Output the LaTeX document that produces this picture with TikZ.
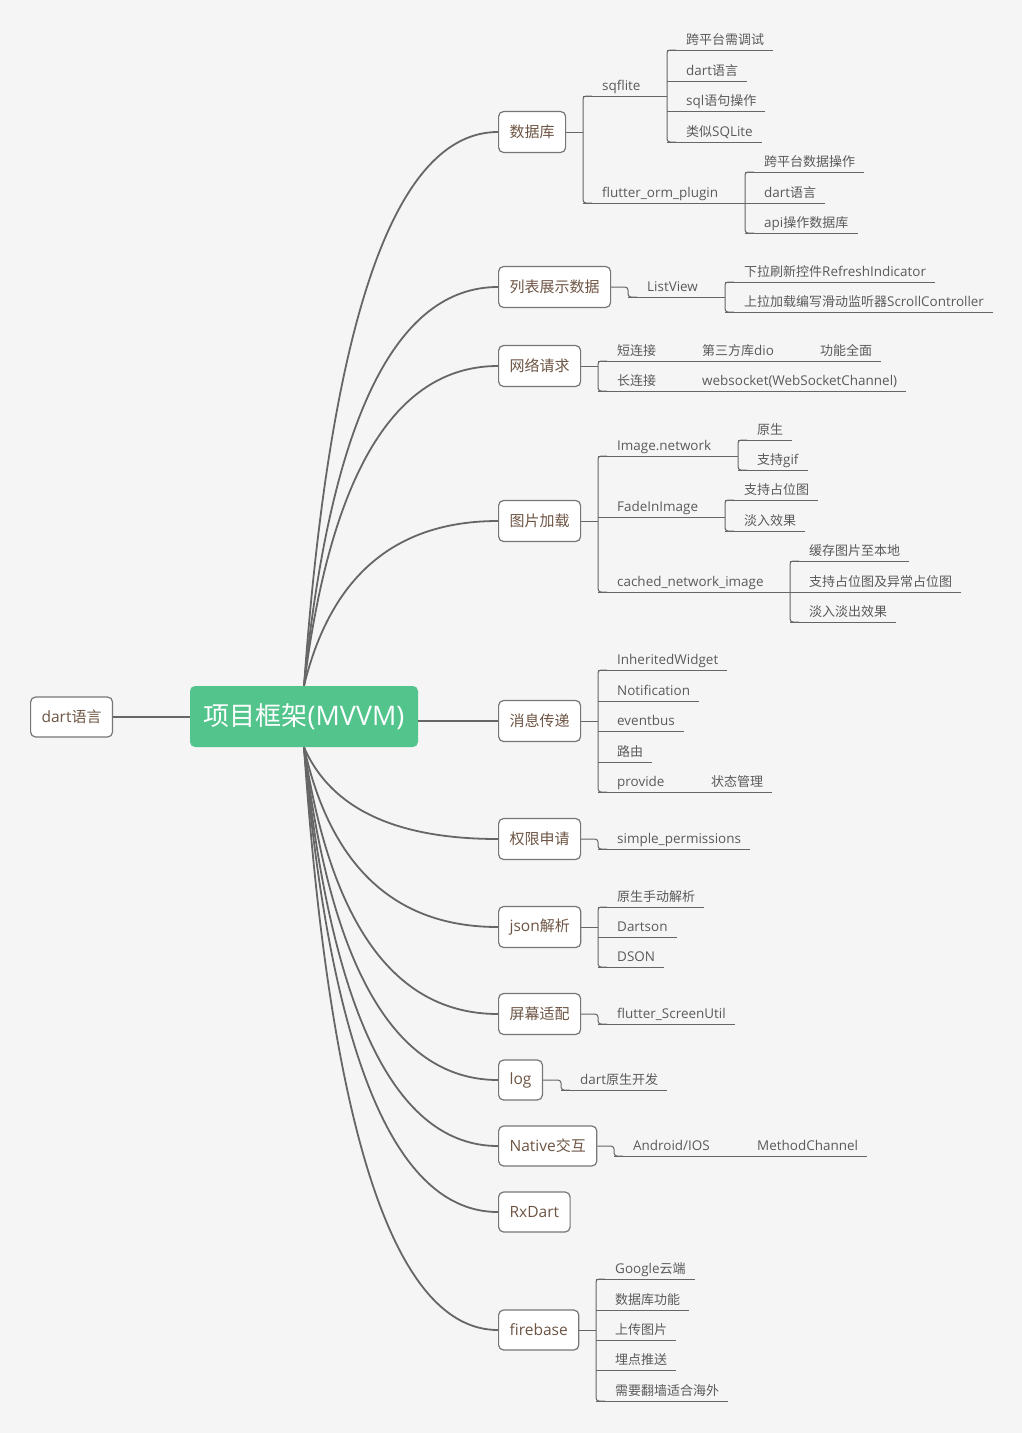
\documentclass[tikz,border=0pt]{standalone}
\usepackage{fontspec}
\setmainfont[Scale=1.035]{Open Sans}
\newfontfamily\cjkfont{Noto Sans CJK SC}
\XeTeXinterchartokenstate=1
\newXeTeXintercharclass\cjkclass
\newcount\cjkcode
\cjkcode="3000
\loop
  \XeTeXcharclass\cjkcode=\cjkclass
  \advance\cjkcode by 1
\ifnum\cjkcode<"A000 \repeat
\XeTeXinterchartoks 0 \cjkclass = {\cjkfont}
\XeTeXinterchartoks 4095 \cjkclass = {\cjkfont}
\XeTeXinterchartoks \cjkclass 0 = {\rmfamily}
\XeTeXinterchartoks \cjkclass 4095 = {\rmfamily}
\usetikzlibrary{calc}
\definecolor{bgc}{HTML}{F5F5F5}
\definecolor{rootc}{HTML}{52C48C}
\definecolor{boxc}{HTML}{767676}
\definecolor{topicc}{HTML}{6E5545}
\definecolor{leafc}{HTML}{5A5A5A}
\definecolor{linec}{HTML}{666666}

\begin{document}
\begin{tikzpicture}[x=1pt, y=-1pt,
root/.style = {fill = rootc, rounded corners = 5pt, text = white, font = \fontsize{26}{30}\selectfont, minimum width = 228pt, minimum height = 61pt},
topic/.style = {draw = boxc, line width = 1.2pt, fill = white, rounded corners = 5pt, text = topicc, font = \fontsize{15}{18}\selectfont, minimum height = 41pt, inner xsep = 11pt, anchor = west},
branch/.style = {draw = linec, line width = 1.8pt},
twig/.style = {draw = linec, line width = 1pt},
spine/.style = {twig, rounded corners = 3pt},
leaf/.style = {anchor = south west, inner xsep = 0pt, inner ysep = 5pt, text depth = 0pt, text = leafc, font = \fontsize{13}{15}\selectfont,
  execute at begin node = \hspace*{19pt}, execute at end node = \hspace*{9pt},
  append after command = {(\tikzlastnode.south west) edge[twig] (\tikzlastnode.south east)}},
]
\fill[bgc] (0,0) rectangle (1022,1433);
\useasboundingbox (0,0) rectangle (1022,1433);

\node[root] (root) at (304,716.5) {项目框架(MVVM)};
\node[topic, minimum height = 40pt] (dl) at (30,717) {dart语言};
\draw[branch] (dl.east) -- (dl.east -| root.west);

\node[topic] (db) at (498,132) {数据库};
\node[topic] (ls) at (498,287) {列表展示数据};
\node[topic] (net) at (498,366) {网络请求};
\node[topic] (img) at (498,521) {图片加载};
\node[topic] (msg) at (498,721) {消息传递};
\node[topic] (perm) at (498,839) {权限申请};
\node[topic] (json) at (498,927) {json解析};
\node[topic] (scr) at (498,1014) {屏幕适配};
\node[topic, minimum height = 40pt] (log) at (498,1080) {log};
\node[topic, minimum height = 40pt] (nat) at (498,1146) {Native交互};
\node[topic, minimum height = 40pt] (rx) at (498,1212) {RxDart};
\node[topic, minimum height = 40pt] (fb) at (498,1330) {firebase};

\coordinate (rt) at ([xshift = 40pt]root.north);
\coordinate (rb) at ([xshift = 40pt]root.south);
\foreach \b in {db,ls,net,img}
  \draw[branch] (root.north) .. controls ($(root.north)!.667!(rt |- \b.west)$) and ($(\b.west)!.667!(rt |- \b.west)$) .. (\b.west);
\foreach \b in {perm,json,scr,log,nat,rx,fb}
  \draw[branch] (root.south) .. controls ($(root.south)!.667!(rb |- \b.west)$) and ($(\b.west)!.667!(rb |- \b.west)$) .. (\b.west);
\draw[branch] (root.east |- msg.west) -- (msg.west);

\node[leaf] (sq) at (583,96) {sqflite};
\node[leaf] (orm) at (583,203) {flutter\_orm\_plugin};
\node[leaf] (sq1) at (667,50) {跨平台需调试};
\node[leaf] (sq2) at (667,81) {dart语言};
\node[leaf] (sq3) at (667,111) {sql语句操作};
\node[leaf] (sq4) at (667,142) {类似SQLite};
\node[leaf] (orm1) at (745,172) {跨平台数据操作};
\node[leaf] (orm2) at (745,203) {dart语言};
\node[leaf] (orm3) at (745,233) {api操作数据库};
\draw[twig] (db.east) -- (db.east -| sq.south west);
\draw[spine] ([xshift = 9pt]sq.south west) -- (sq.south west) -- (orm.south west) -- ([xshift = 9pt]orm.south west);
\draw[twig] (sq.south east) -- (sq.south east -| sq1.south west);
\draw[spine] ([xshift = 9pt]sq1.south west) -- (sq1.south west) -- (sq4.south west) -- ([xshift = 9pt]sq4.south west);
\draw[twig] (orm.south east) -- (orm.south east -| orm1.south west);
\draw[spine] ([xshift = 9pt]orm1.south west) -- (orm1.south west) -- (orm3.south west) -- ([xshift = 9pt]orm3.south west);

\node[leaf] (lv) at (628,297) {ListView};
\node[leaf] (lv1) at (725,282) {下拉刷新控件RefreshIndicator};
\node[leaf] (lv2) at (725,312) {上拉加载编写滑动监听器ScrollController};
\draw[spine] (ls.east) -| (lv.south west) -- ([xshift = 9pt]lv.south west);
\draw[twig] (lv.south east) -- (lv.south east -| lv1.south west);
\draw[spine] ([xshift = 9pt]lv1.south west) -- (lv1.south west) -- (lv2.south west) -- ([xshift = 9pt]lv2.south west);

\node[leaf] (s1) at (598,361) {短连接};
\node[leaf] (s2) at (683,361) {第三方库dio};
\node[leaf] (s3) at (801,361) {功能全面};
\node[leaf] (l1) at (598,391) {长连接};
\node[leaf] (l2) at (683,391) {websocket(WebSocketChannel)};
\draw[twig] (net.east) -- (net.east -| s1.south west);
\draw[spine] ([xshift = 9pt]s1.south west) -- (s1.south west) -- (l1.south west) -- ([xshift = 9pt]l1.south west);
\draw[twig] (s1.south east) -- (s2.south west);
\draw[twig] (s2.south east) -- (s3.south west);
\draw[twig] (l1.south east) -- (l2.south west);

\node[leaf] (inw) at (598,456) {Image.network};
\node[leaf] (fi) at (598,517) {FadeInImage};
\node[leaf] (cn) at (598,592) {cached\_network\_image};
\node[leaf] (inw1) at (738,440) {原生};
\node[leaf] (inw2) at (738,470) {支持gif};
\node[leaf] (fi1) at (725,500) {支持占位图};
\node[leaf] (fi2) at (725,531) {淡入效果};
\node[leaf] (cn1) at (790,561) {缓存图片至本地};
\node[leaf] (cn2) at (790,592) {支持占位图及异常占位图};
\node[leaf] (cn3) at (790,622) {淡入淡出效果};
\draw[twig] (img.east) -- (img.east -| inw.south west);
\draw[spine] ([xshift = 9pt]inw.south west) -- (inw.south west) -- (cn.south west) -- ([xshift = 9pt]cn.south west);
\draw[twig] (inw.south east) -- (inw.south east -| inw1.south west);
\draw[spine] ([xshift = 9pt]inw1.south west) -- (inw1.south west) -- (inw2.south west) -- ([xshift = 9pt]inw2.south west);
\draw[twig] (fi.south east) -- (fi.south east -| fi1.south west);
\draw[spine] ([xshift = 9pt]fi1.south west) -- (fi1.south west) -- (fi2.south west) -- ([xshift = 9pt]fi2.south west);
\draw[twig] (cn.south east) -- (cn.south east -| cn1.south west);
\draw[spine] ([xshift = 9pt]cn1.south west) -- (cn1.south west) -- (cn3.south west) -- ([xshift = 9pt]cn3.south west);

\node[leaf] (m1) at (598,670) {InheritedWidget};
\node[leaf] (m2) at (598,701) {Notification};
\node[leaf] (m3) at (598,731) {eventbus};
\node[leaf] (m4) at (598,762) {路由};
\node[leaf] (m5) at (598,792) {provide};
\node[leaf] (m6) at (692,792) {状态管理};
\draw[twig] (msg.east) -- (msg.east -| m1.south west);
\draw[spine] ([xshift = 9pt]m1.south west) -- (m1.south west) -- (m5.south west) -- ([xshift = 9pt]m5.south west);
\draw[twig] (m5.south east) -- (m6.south west);

\node[leaf] (p1) at (598,849) {simple\_permissions};
\draw[spine] (perm.east) -| (p1.south west) -- ([xshift = 9pt]p1.south west);

\node[leaf] (j1) at (598,907) {原生手动解析};
\node[leaf] (j2) at (598,937) {Dartson};
\node[leaf] (j3) at (598,967) {DSON};
\draw[twig] (json.east) -- (json.east -| j1.south west);
\draw[spine] ([xshift = 9pt]j1.south west) -- (j1.south west) -- (j3.south west) -- ([xshift = 9pt]j3.south west);

\node[leaf] (sc1) at (598,1024) {flutter\_ScreenUtil};
\draw[spine] (scr.east) -| (sc1.south west) -- ([xshift = 9pt]sc1.south west);

\node[leaf] (lg1) at (561,1090) {dart原生开发};
\draw[spine] (log.east) -| (lg1.south west) -- ([xshift = 9pt]lg1.south west);

\node[leaf] (na1) at (614,1156) {Android/IOS};
\node[leaf] (na2) at (738,1156) {MethodChannel};
\draw[spine] (nat.east) -| (na1.south west) -- ([xshift = 9pt]na1.south west);
\draw[twig] (na1.south east) -- (na2.south west);

\node[leaf] (fb1) at (596,1279) {Google云端};
\node[leaf] (fb2) at (596,1310) {数据库功能};
\node[leaf] (fb3) at (596,1340) {上传图片};
\node[leaf] (fb4) at (596,1370) {埋点推送};
\node[leaf] (fb5) at (596,1401) {需要翻墙适合海外};
\draw[twig] (fb.east) -- (fb.east -| fb1.south west);
\draw[spine] ([xshift = 9pt]fb1.south west) -- (fb1.south west) -- (fb5.south west) -- ([xshift = 9pt]fb5.south west);
\end{tikzpicture}
\end{document}
